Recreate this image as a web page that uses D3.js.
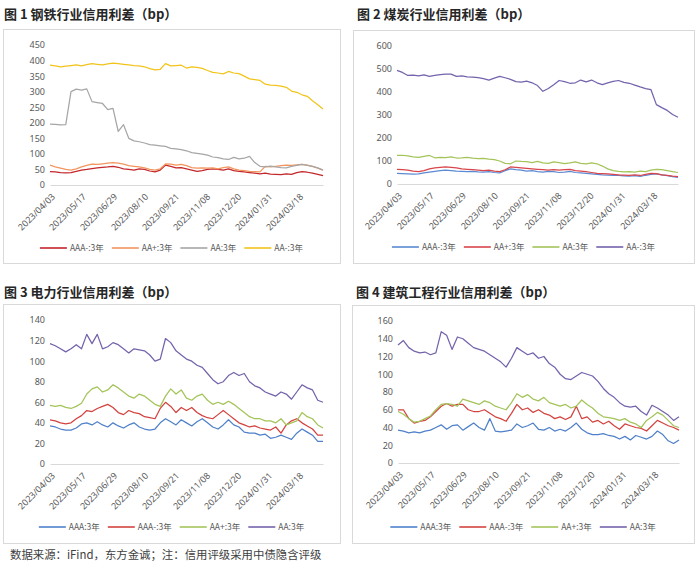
<!DOCTYPE html>
<html><head><meta charset="utf-8">
<script src="https://cdn.jsdelivr.net/npm/d3@7"></script>
<style>
body{margin:0;background:#fff;}
svg{display:block;font-family:"Noto Sans CJK SC","Noto Sans",sans-serif;}
</style>
</head><body>
<svg id="c" width="700" height="571"></svg>
<script>
// ---- data ----
const tickLabels = ["2023/04/03","2023/05/17","2023/06/29","2023/08/10","2023/09/21","2023/11/08","2023/12/20","2024/01/31","2024/03/18"];
const tickDays = [0,30,60,90,120,150,180,210,240];   // trading-day index of each tick
const lastDay = 264;                                  // trading-day index of last observation

// 图1 钢铁
const steel_AAAm = [43,42,40,39,40,44,48,50,53,55,57,58,60,57,52,50,48,52,50,45,42,48,64,60,55,56,52,48,44,46,50,52,50,48,52,46,44,42,40,38,36,38,35,34,33,36,34,40,43,41,38,34,30];
const steel_AAp  = [64,58,54,50,48,52,58,63,67,66,68,70,72,70,67,62,60,58,55,50,48,52,68,67,64,66,62,56,54,55,54,55,52,56,58,52,48,46,44,43,42,60,58,60,62,64,63,65,66,64,60,54,48];
const steel_AA   = [196,195,193,194,300,308,305,309,268,265,262,242,246,172,194,150,142,139,135,130,128,126,124,118,116,114,110,104,102,99,96,90,88,84,82,89,84,86,92,72,60,58,61,58,56,55,60,63,66,63,60,55,48];
const steel_AAm  = [385,383,380,382,384,386,383,387,390,388,386,389,392,390,388,386,384,383,380,374,370,372,390,383,384,385,376,380,378,375,368,362,360,357,365,360,358,350,341,339,336,324,321,320,318,314,302,298,290,285,271,258,244];

// 图2 煤炭
const coal_AAAm = [46,45,44,43,44,48,52,55,58,60,58,56,55,54,55,53,52,54,50,48,58,66,62,60,56,58,54,52,55,54,50,52,55,50,48,46,44,42,40,39,38,37,35,34,36,33,38,42,44,40,36,32,29];
const coal_AAp  = [64,62,60,56,54,58,66,70,72,74,72,70,66,64,62,60,58,60,56,54,62,74,72,70,68,66,64,62,60,62,60,62,64,58,56,54,50,46,45,44,42,40,39,38,40,37,42,46,45,40,38,34,32];
const coal_AA   = [124,125,122,118,116,120,124,114,116,115,118,113,114,116,112,110,111,108,106,100,90,88,100,98,97,93,98,92,90,96,93,89,92,96,90,88,92,88,78,66,58,55,53,54,52,56,54,60,64,62,58,54,50];
const coal_AAm  = [494,485,472,473,470,474,468,472,476,478,478,468,470,466,465,462,458,452,460,468,462,455,445,443,447,440,428,403,415,432,450,445,438,440,452,444,452,440,432,440,446,450,442,438,430,422,415,410,345,332,320,302,290];

// 图3 电力
const power_AAA  = [37,36,34,33,33,35,39,40,38,41,38,36,40,37,35,38,40,36,34,33,34,40,44,41,38,43,40,37,41,44,40,36,34,38,43,38,36,31,30,30,28,29,25,26,28,26,24,30,34,31,28,22,22];
const power_AAAm = [43,42,40,39,40,44,47,52,51,54,56,58,55,50,48,52,50,49,46,45,44,54,60,56,50,55,52,55,50,47,45,44,48,52,48,44,40,38,36,37,35,34,33,36,30,38,42,44,40,37,34,28,28];
const power_AAp  = [57,56,57,55,54,56,59,68,73,75,70,72,77,74,70,66,64,68,66,62,58,56,66,73,68,72,64,62,66,68,62,58,60,58,61,58,54,50,46,44,44,42,42,40,44,38,40,42,50,46,44,38,35];
const power_AA   = [117,115,112,109,112,116,112,126,117,126,112,114,118,116,112,108,112,111,110,106,100,102,122,118,110,106,102,100,96,94,88,82,78,80,86,89,86,88,80,76,74,70,68,66,70,68,63,70,77,74,72,62,60];

// 图4 建筑工程
const constr_AAA  = [37,36,34,35,34,36,37,40,43,38,42,43,37,41,45,40,37,50,36,35,36,37,44,40,42,45,38,37,40,36,38,36,40,45,38,34,32,32,33,31,30,27,30,26,31,29,27,30,36,32,25,22,26];
const constr_AAAm = [60,60,50,45,47,48,52,58,64,67,64,66,66,60,58,58,60,56,52,50,47,56,66,60,62,57,60,56,54,50,52,49,52,64,50,52,46,48,44,47,42,38,44,42,40,39,36,42,48,45,42,40,37];
const constr_AAp  = [58,55,50,46,47,50,53,60,66,67,66,64,72,70,68,66,70,68,64,62,60,68,78,74,77,72,70,74,68,66,64,66,62,64,71,66,62,56,52,51,50,48,50,46,44,40,48,52,57,54,48,42,40];
const constr_AA   = [133,138,130,126,124,125,122,124,148,144,128,142,140,135,130,128,126,122,118,114,108,118,130,126,122,124,118,120,112,108,100,95,94,98,102,100,98,92,84,78,74,68,64,63,64,58,54,65,62,58,54,48,52];

// ---- layout ----
const panels = [
  {title:"图 1 钢铁行业信用利差（bp）", tx:4, ty:19, box:[3,29,337,234], px:[50,323], py:[185,45], yMax:450, yStep:50, legendY:248,
   series:[{name:"AAA-:3年",color:"#C3262B",values:steel_AAAm},{name:"AA+:3年",color:"#F2955E",values:steel_AAp},
           {name:"AA:3年",color:"#A6A6A6",values:steel_AA},{name:"AA-:3年",color:"#F2C41A",values:steel_AAm}]},
  {title:"图 2 煤炭行业信用利差（bp）", tx:357, ty:19, box:[353,30,341,233], px:[397,678], py:[184,46], yMax:600, yStep:100, legendY:247,
   series:[{name:"AAA-:3年",color:"#5B8AD3",values:coal_AAAm},{name:"AA+:3年",color:"#D8454B",values:coal_AAp},
           {name:"AA:3年",color:"#A4C45A",values:coal_AA},{name:"AA-:3年",color:"#7463AC",values:coal_AAm}]},
  {title:"图 3 电力行业信用利差（bp）", tx:4, ty:297, box:[3,304,337,239], px:[50,323], py:[464,320], yMax:140, yStep:20, legendY:527,
   series:[{name:"AAA:3年",color:"#4F80C9",values:power_AAA},{name:"AAA-:3年",color:"#D2433F",values:power_AAAm},
           {name:"AA+:3年",color:"#A4C45A",values:power_AAp},{name:"AA:3年",color:"#7463AC",values:power_AA}]},
  {title:"图 4 建筑工程行业信用利差（bp）", tx:356, ty:297, box:[352,305,342,238], px:[398,679], py:[463,321], yMax:160, yStep:20, legendY:527,
   series:[{name:"AAA:3年",color:"#4F80C9",values:constr_AAA},{name:"AAA-:3年",color:"#D2433F",values:constr_AAAm},
           {name:"AA+:3年",color:"#A4C45A",values:constr_AAp},{name:"AA:3年",color:"#7463AC",values:constr_AA}]}
];

const svg = d3.select("#c");
svg.append("rect").attr("width",700).attr("height",571).attr("fill","#fff");

panels.forEach(p => {
  const g = svg.append("g");
  g.append("rect").attr("x",p.box[0]+0.5).attr("y",p.box[1]+0.5).attr("width",p.box[2]).attr("height",p.box[3])
    .attr("fill","#fff").attr("stroke","#D9D9D9").attr("stroke-width",1);
  g.append("text").text(p.title).attr("x",p.tx).attr("y",p.ty)
    .attr("font-size",13).attr("font-weight","bold").attr("fill","#262626");

  const x = d3.scaleLinear().domain([0,lastDay]).range(p.px);
  const y = d3.scaleLinear().domain([0,p.yMax]).range(p.py);

  const ya = g.append("g").attr("transform",`translate(${p.px[0]},0)`)
    .call(d3.axisLeft(y).tickValues(d3.range(0,p.yMax+1,p.yStep)).tickSize(0).tickPadding(5));
  ya.select(".domain").remove();
  ya.selectAll("text").attr("font-size",9).attr("fill","#595959").attr("font-family","'Noto Sans',sans-serif");

  const xa = g.append("g").attr("transform",`translate(0,${p.py[0]})`)
    .call(d3.axisBottom(x).tickValues(tickDays).tickFormat((d,i)=>tickLabels[i]).tickSize(0).tickSizeOuter(0));
  xa.select(".domain").attr("stroke","#D9D9D9").attr("stroke-width",1);
  xa.selectAll("text").attr("font-size",9).attr("fill","#595959").attr("font-family","'Noto Sans',sans-serif")
    .attr("text-anchor","end").attr("x",0).attr("y",0).attr("dy","0.35em")
    .attr("transform","translate(3,10) rotate(-45)");

  p.series.forEach(s => {
    const n = s.values.length;
    const line = d3.line().x((d,i)=>x(i*lastDay/(n-1))).y(d=>y(d));
    g.append("path").datum(s.values).attr("d",line).attr("fill","none")
      .attr("stroke",s.color).attr("stroke-width",1.25).attr("stroke-linejoin","round");
  });

  // legend
  const lg = g.append("g");
  let cx = 0;
  p.series.forEach((s,k) => {
    lg.append("line").attr("x1",cx).attr("x2",cx+27).attr("y1",0).attr("y2",0)
      .attr("stroke",s.color).attr("stroke-width",1.6);
    const t = lg.append("text").text(s.name).attr("x",cx+30).attr("y",0).attr("dy","0.35em")
      .attr("font-size",8.5).attr("fill","#595959");
    cx += 30 + t.node().getComputedTextLength() + (k<p.series.length-1 ? 8 : 0);
  });
  const center = p.box[0] + p.box[2]/2;
  lg.attr("transform",`translate(${center - cx/2},${p.legendY})`);
});

svg.append("text").text("数据来源：iFind，东方金诚；注：信用评级采用中债隐含评级")
  .attr("x",10).attr("y",559).attr("font-size",11.4).attr("fill","#404040");
</script>
</body></html>
